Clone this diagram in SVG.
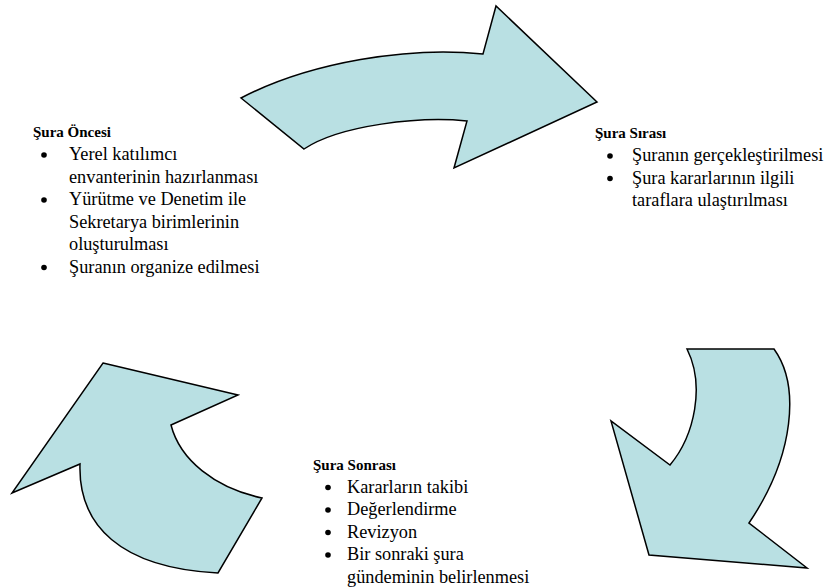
<svg xmlns="http://www.w3.org/2000/svg" width="829" height="588" viewBox="0 0 829 588">
<style>
.arrow{fill:#b9e0e3;stroke:#000;stroke-width:1.5;stroke-linejoin:miter}
.node{font-family:"Liberation Serif","Times New Roman",serif}
.t{font-size:15px;font-weight:bold}
.b{font-size:18.3px}
.dot{fill:#000}
</style>
<rect width="829" height="588" fill="#fff"/>
<g id="connectors">
<path id="arrow-top" class="arrow" d="M241,98 C310,62 410,46 483,54 L496,6 L597,102 L454,168 L467,121 C420,116 340,125 304,149 Z"/>
<path id="arrow-right" class="arrow" d="M687,349 L774,349 C800,385 795,455 749,523 L807,568 L649,555 L611,421 L670,465 C695,435 705,385 687,349 Z"/>
<path id="arrow-left" class="arrow" d="M103,363 L238,395 L171,425 C180,460 215,488 262,498 L218,573 C120,568 78,525 80,464 L12,493 Z"/>
</g>
<g id="node-oncesi" class="node">
<text class="t" x="33" y="137">Şura Öncesi</text>
<circle class="dot" cx="44" cy="155" r="2.8"/>
<text class="b" x="69" y="160">Yerel katılımcı</text>
<text class="b" x="69" y="182.5">envanterinin hazırlanması</text>
<circle class="dot" cx="44" cy="200" r="2.8"/>
<text class="b" x="69" y="205">Yürütme ve Denetim ile</text>
<text class="b" x="69" y="227.5">Sekretarya birimlerinin</text>
<text class="b" x="69" y="250">oluşturulması</text>
<circle class="dot" cx="44" cy="267.5" r="2.8"/>
<text class="b" x="69" y="272.5">Şuranın organize edilmesi</text>
</g>
<g id="node-sirasi" class="node">
<text class="t" x="595" y="138">Şura Sırası</text>
<circle class="dot" cx="610" cy="156" r="2.8"/>
<text class="b" x="632" y="161">Şuranın gerçekleştirilmesi</text>
<circle class="dot" cx="610" cy="178.5" r="2.8"/>
<text class="b" x="632" y="183.5">Şura kararlarının ilgili</text>
<text class="b" x="632" y="206">taraflara ulaştırılması</text>
</g>
<g id="node-sonrasi" class="node">
<text class="t" x="313" y="470">Şura Sonrası</text>
<circle class="dot" cx="328" cy="487.5" r="2.8"/>
<text class="b" x="347" y="492.5">Kararların takibi</text>
<circle class="dot" cx="328" cy="510" r="2.8"/>
<text class="b" x="347" y="515">Değerlendirme</text>
<circle class="dot" cx="328" cy="532.5" r="2.8"/>
<text class="b" x="347" y="537.5">Revizyon</text>
<circle class="dot" cx="328" cy="555" r="2.8"/>
<text class="b" x="347" y="560">Bir sonraki şura</text>
<text class="b" x="347" y="582.5">gündeminin belirlenmesi</text>
</g>
</svg>
